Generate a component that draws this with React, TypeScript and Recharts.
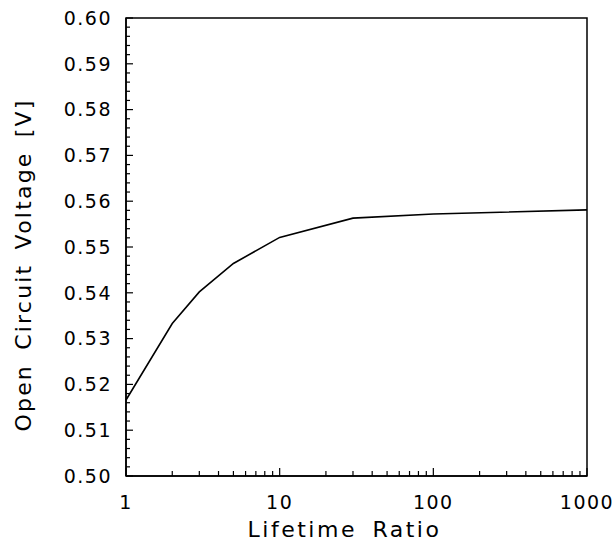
import { LineChart, Line, XAxis, YAxis, ReferenceArea } from 'recharts';

// lifetime ratio (log axis) vs open circuit voltage
const lifetimeRatio = [1, 2, 3, 5, 10, 30, 100, 1000];
const openCircuitVoltage = [0.5166, 0.5333, 0.5402, 0.5464, 0.5521, 0.5563, 0.5572, 0.5581];

const yLabelTicks = [0.5, 0.51, 0.52, 0.53, 0.54, 0.55, 0.56, 0.57, 0.58, 0.59, 0.6];
const yMinorTicks = [
  0.5, 0.502, 0.504, 0.506, 0.508, 0.51, 0.512, 0.514, 0.516, 0.518,
  0.52, 0.522, 0.524, 0.526, 0.528, 0.53, 0.532, 0.534, 0.536, 0.538,
  0.54, 0.542, 0.544, 0.546, 0.548, 0.55, 0.552, 0.554, 0.556, 0.558,
  0.56, 0.562, 0.564, 0.566, 0.568, 0.57, 0.572, 0.574, 0.576, 0.578,
  0.58, 0.582, 0.584, 0.586, 0.588, 0.59, 0.592, 0.594, 0.596, 0.598, 0.6,
];
const xLabelTicks = [1, 10, 100, 1000];
const xMinorTicks = [
  1, 2, 3, 4, 5, 6, 7, 8, 9,
  10, 20, 30, 40, 50, 60, 70, 80, 90,
  100, 200, 300, 400, 500, 600, 700, 800, 900, 1000,
];

const data = lifetimeRatio.map((r, i) => ({ ratio: r, voc: openCircuitVoltage[i] }));

const FONT = '"DejaVu Sans", sans-serif';
const isMajor = (list: number[], v: number) => list.some((t) => Math.abs(t - v) < 1e-9);

const LeftTick = (props: any) => {
  const { x, y, payload } = props;
  const major = isMajor(yLabelTicks, payload.value);
  return (
    <g>
      <line x1={x} y1={y} x2={x + (major ? 7 : 4)} y2={y} stroke="#000" strokeWidth={1.2} />
      {major && (
        <text x={x - 14} y={y} dy="0.36em" textAnchor="end" fontFamily={FONT} fontSize={19} letterSpacing={1.5} fill="#000">
          {payload.value.toFixed(2)}
        </text>
      )}
    </g>
  );
};

const RightTick = (props: any) => {
  const { x, y, payload } = props;
  const major = isMajor(yLabelTicks, payload.value);
  return <line x1={x} y1={y} x2={x - (major ? 5 : 3)} y2={y} stroke="#000" strokeWidth={1} />;
};

const BottomTick = (props: any) => {
  const { x, y, payload } = props;
  const major = isMajor(xLabelTicks, payload.value);
  return (
    <g>
      <line x1={x} y1={y} x2={x} y2={y - (major ? 8 : 5)} stroke="#000" strokeWidth={1.2} />
      {major && (
        <text x={x} y={y + 33} textAnchor="middle" fontFamily={FONT} fontSize={19} letterSpacing={1.5} fill="#000">
          {payload.value}
        </text>
      )}
    </g>
  );
};

export default function App() {
  return (
    <div style={{ position: 'absolute', left: 0, top: 0, background: '#fff' }}>
      <LineChart width={615} height={551} data={data} margin={{ top: 18, right: 27, left: 0, bottom: 0 }}>
        <XAxis
          dataKey="ratio"
          type="number"
          scale="log"
          domain={[1, 1000]}
          ticks={xMinorTicks}
          interval={0}
          tickLine={false}
          tickSize={0}
          tickMargin={0}
          tick={<BottomTick />}
          height={75}
          axisLine={{ stroke: '#000', strokeWidth: 1.5 }}
          label={{
            value: 'Lifetime Ratio',
            content: (p: any) => {
              const vb = p.viewBox;
              return (
                <text x={vb.x + vb.width / 2 - 12} y={vb.y + 61} textAnchor="middle" fontFamily={FONT} fontSize={22} letterSpacing={2.5} wordSpacing={6} fill="#000">
                  Lifetime Ratio
                </text>
              );
            },
          }}
        />
        <YAxis
          type="number"
          domain={[0.5, 0.6]}
          ticks={yMinorTicks}
          interval={0}
          tickLine={false}
          tickSize={0}
          tickMargin={0}
          tick={<LeftTick />}
          width={126}
          axisLine={{ stroke: '#000', strokeWidth: 1.5 }}
          label={{
            value: 'Open Circuit Voltage [V]',
            content: (p: any) => {
              const vb = p.viewBox;
              const cy = vb.y + vb.height / 2 + 18;
              return (
                <text x={23} y={cy} transform={`rotate(-90 23 ${cy})`} dy="0.36em" textAnchor="middle" fontFamily={FONT} fontSize={22} letterSpacing={2.2} wordSpacing={5} fill="#000">
                  Open Circuit Voltage [V]
                </text>
              );
            },
          }}
        />
        <YAxis
          yAxisId="right"
          orientation="right"
          type="number"
          domain={[0.5, 0.6]}
          ticks={yMinorTicks}
          interval={0}
          tickLine={false}
          tickSize={0}
          tickMargin={0}
          tick={<RightTick />}
          width={1}
          axisLine={false}
        />
        <ReferenceArea
          x1={1}
          x2={1000}
          y1={0.5}
          y2={0.6}
          fill="none"
          fillOpacity={0}
          stroke="#000"
          strokeWidth={1.5}
          ifOverflow="visible"
        />
        <Line
          type="linear"
          dataKey="voc"
          stroke="#000"
          strokeWidth={1.6}
          dot={false}
          isAnimationActive={false}
        />
      </LineChart>
    </div>
  );
}
